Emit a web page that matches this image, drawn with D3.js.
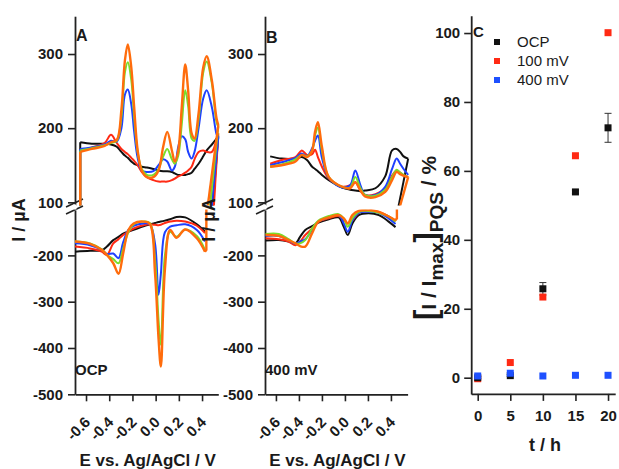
<!DOCTYPE html>
<html>
<head>
<meta charset="utf-8">
<script src="https://cdn.jsdelivr.net/npm/d3@7"></script>
<style>
  body { margin: 0; background: #fff; }
  svg text { font-family: "Liberation Sans", Arial, sans-serif; fill: #1a1a1a; }
</style>
</head>
<body>
<svg id="chart" width="619" height="469"></svg>
<script>
// curve colours, same order in every CV array below
const curveColors = ["#111111", "#ff2a14", "#1e40ff", "#7ade2a", "#ff6c0c"];

// panel A (OCP) - forward sweep, E in V, I in uA
const eAUp = [-0.65, -0.55, -0.44, -0.385, -0.335, -0.295, -0.265, -0.24, -0.21, -0.185, -0.155, -0.12, -0.075, -0.02, 0.025, 0.065, 0.10, 0.14, 0.165, 0.195, 0.225, 0.255, 0.28, 0.31, 0.335, 0.37, 0.41, 0.44, 0.485, 0.525, 0.54];
const aUp = [
  [181, 179, 179, 178, 175, 168, 163, 160, 155, 152, 150, 148, 147, 145, 143, 142, 142, 141, 139, 137, 137, 137, 138, 140, 145, 152, 162, 170, 178, 186, 190],
  [170, 174, 180, 191, 180, 172, 168, 165, 160, 156, 150, 141, 134, 130, 128, 128, 128, 130, 132, 135, 137, 140, 143, 148, 158, 168, 170, 168, 168, 185, 193],
  [172, 174, 178, 183, 182, 200, 245, 252, 232, 195, 160, 143, 141, 142, 150, 158, 155, 143, 148, 175, 189, 185, 168, 159, 168, 200, 240, 251, 228, 192, 188],
  [170, 173, 177, 180, 183, 215, 275, 289, 265, 215, 168, 145, 137, 137, 145, 162, 172, 158, 152, 163, 205, 251, 230, 186, 183, 212, 275, 290, 260, 208, 202],
  [168, 172, 176, 181, 184, 225, 291, 313, 282, 228, 170, 143, 134, 134, 143, 175, 195, 170, 155, 170, 228, 286, 251, 193, 186, 220, 282, 297, 264, 213, 204]
];
const aUpDropE = [0.49, 0.5, 0.48, 0.465, 0.445];

// panel A - reverse sweep
const eALow = [-0.695, -0.565, -0.465, -0.42, -0.365, -0.32, -0.28, -0.235, -0.19, -0.105, -0.05, -0.005, 0.025, 0.045, 0.08, 0.125, 0.18, 0.255, 0.355, 0.425];
const aLow = [
  [-192, -190, -189, -181, -167, -160, -153, -149, -145, -137, -133, -130, -128, -127, -125, -122, -117, -118, -133, -149],
  [-181, -185, -192, -199, -174, -165, -156, -149, -142, -135, -133, -134, -135, -134, -130, -127, -125, -127, -136, -152],
  [-174, -178, -188, -197, -196, -206, -172, -145, -136, -131, -133, -175, -285, -240, -150, -138, -135, -133, -145, -170],
  [-170, -174, -187, -199, -208, -217, -185, -150, -133, -127, -130, -210, -340, -393, -200, -149, -160, -144, -158, -188],
  [-170, -175, -188, -199, -217, -240, -196, -145, -131, -127, -132, -240, -380, -440, -230, -145, -162, -144, -163, -192]
];

// panel B (400 mV) - forward sweep
const eBUp = [-0.65, -0.55, -0.43, -0.375, -0.33, -0.285, -0.26, -0.235, -0.2, -0.14, -0.025, 0.045, 0.09, 0.135, 0.175, 0.265, 0.35, 0.41, 0.45, 0.48, 0.51, 0.55];
const bUp = [
  [162, 159, 159, 161, 157, 148, 145, 142, 137, 130, 120, 117, 116, 115, 116, 119, 135, 170, 172, 168, 162, 159],
  [152, 157, 161, 170, 164, 165, 171, 161, 148, 132, 121, 123, 127, 116, 110, 111, 119, 136, 143, 140, 136, 134],
  [150, 154, 160, 166, 162, 173, 183, 190, 160, 133, 120, 123, 143, 123, 110, 110, 121, 145, 159, 152, 145, 137],
  [148, 151, 158, 164, 162, 170, 190, 201, 170, 134, 121, 120, 134, 119, 110, 109, 117, 134, 144, 140, 137, 134],
  [148, 150, 155, 164, 161, 170, 195, 208, 175, 134, 121, 119, 127, 116, 108, 107, 114, 130, 141, 138, 136, 134]
];

// panel B - reverse sweep
const eBLow = [-0.69, -0.575, -0.49, -0.43, -0.39, -0.345, -0.285, -0.23, -0.14, -0.055, -0.01, 0.025, 0.065, 0.12, 0.205, 0.295, 0.38, 0.44];
const bLow = [
  [-168, -167, -170, -174, -160, -145, -137, -129, -122, -118, -138, -156, -131, -113, -109, -113, -127, -139],
  [-163, -165, -170, -178, -170, -156, -142, -127, -120, -115, -124, -131, -124, -108, -104, -106, -116, -127],
  [-158, -158, -167, -175, -170, -165, -145, -127, -118, -113, -131, -149, -124, -108, -106, -108, -120, -132],
  [-154, -154, -165, -174, -174, -167, -142, -125, -115, -111, -120, -138, -120, -106, -104, -108, -116, -127],
  [-156, -158, -167, -174, -180, -181, -152, -127, -118, -113, -120, -131, -113, -104, -102, -106, -116, -124]
];

const yUpTicks = [100, 200, 300];
const yLowTicks = [-200, -300, -400, -500];
const eTicks = [-0.6, -0.4, -0.2, 0.0, 0.2, 0.4];

// panel C
const hours = [0, 5, 10, 15, 20];
const ocp = [0, 0.6, 25.8, 53.9, 72.5];
const ocpErr = [0.3, 0.3, 1.8, 0.5, 4.2];
const mv100 = [-0.3, 4.4, 23.4, 64.4, 100.1];
const mv400 = [0.5, 1.3, 0.5, 0.7, 0.7];
const legendNames = ["OCP", "100 mV", "400 mV"];
const legendColors = ["#111111", "#ff2a14", "#1e50ff"];

const svg = d3.select("#chart");
const axisColor = "#222";

const yUp = d3.scaleLinear().domain([96, 351]).range([205.3, 16.2]);
const yLow = d3.scaleLinear().domain([-500, -102]).range([394.3, 210]);

function styleAxis(g, size) {
  g.selectAll("path.domain").attr("stroke", axisColor).attr("stroke-width", 1.8);
  g.selectAll(".tick line").attr("stroke", axisColor).attr("stroke-width", 1.6);
  g.selectAll("text").attr("font-size", size).attr("font-weight", "bold").attr("fill", "#1a1a1a");
}

function drawCV(id, x, axisX, upData, eUp, lowData, eLow, upDrops, showStart, letter, note) {
  const g = svg.append("g");

  g.append("clipPath").attr("id", id + "-up")
    .append("rect").attr("x", axisX).attr("y", 10).attr("width", 160).attr("height", 195.5);
  g.append("clipPath").attr("id", id + "-low")
    .append("rect").attr("x", axisX).attr("y", 209.5).attr("width", 160).attr("height", 190);

  // y axis label
  g.append("text")
    .attr("transform", `translate(${axisX - 50},220) rotate(-90)`)
    .attr("text-anchor", "middle")
    .attr("font-size", 18).attr("font-weight", "bold")
    .text("I / µA");

  // axes
  const ga = g.append("g").attr("transform", `translate(${axisX},0)`)
    .call(d3.axisLeft(yUp).tickValues(yUpTicks).tickSize(7).tickSizeOuter(0).tickPadding(5)
      .tickFormat(d => String(d)));
  styleAxis(ga, 15);
  const gb = g.append("g").attr("transform", `translate(${axisX},0)`)
    .call(d3.axisLeft(yLow).tickValues(yLowTicks).tickSize(7).tickSizeOuter(0).tickPadding(5)
      .tickFormat(d => String(d)));
  styleAxis(gb, 15);

  // axis break marks
  [203, 210].forEach(yy => {
    g.append("line")
      .attr("x1", axisX - 9).attr("y1", yy + 4)
      .attr("x2", axisX + 8).attr("y2", yy - 4)
      .attr("stroke", axisColor).attr("stroke-width", 1.5);
  });
  g.append("rect").attr("x", axisX - 1.5).attr("y", 204.5).attr("width", 3).attr("height", 5).attr("fill", "#fff");

  const gx = g.append("g").attr("transform", "translate(0,394.3)")
    .call(d3.axisBottom(x).tickValues(eTicks).tickSize(7).tickSizeOuter(0)
      .tickFormat(d => d.toFixed(1)));
  styleAxis(gx, 15);
  gx.selectAll("text")
    .attr("text-anchor", "end").attr("x", 0).attr("y", 0).attr("dy", "0.35em")
    .attr("transform", "translate(1,25) rotate(-45)");

  g.append("text")
    .attr("x", (x.range()[0] + x.range()[1]) / 2 + 1).attr("y", 466)
    .attr("text-anchor", "middle").attr("font-size", 17).attr("font-weight", "bold")
    .text("E vs. Ag/AgCl / V");

  const smooth = (ys) => d3.line()
    .x(d => x(d[0])).y(d => ys(d[1]))
    .curve(d3.curveCatmullRom.alpha(0.5));
  const straight = (ys) => d3.line().x(d => x(d[0])).y(d => ys(d[1]));

  const up = g.append("g").attr("clip-path", `url(#${id}-up)`);
  const low = g.append("g").attr("clip-path", `url(#${id}-low)`);

  upData.forEach((vals, i) => {
    const pts = eUp.map((e, k) => [e, vals[k]]);
    const w = i === 4 ? 2.4 : 2;
    if (showStart) {
      up.append("path").attr("d", straight(yUp)([[eUp[0], 90], pts[0]]))
        .attr("fill", "none").attr("stroke", curveColors[i]).attr("stroke-width", w);
    }
    if (upDrops[i] !== null) {
      up.append("path").attr("d", straight(yUp)([pts[pts.length - 1], [upDrops[i], 90]]))
        .attr("fill", "none").attr("stroke", curveColors[i]).attr("stroke-width", w);
    }
    up.append("path").attr("d", smooth(yUp)(pts))
      .attr("fill", "none").attr("stroke", curveColors[i]).attr("stroke-width", w)
      .attr("stroke-linejoin", "round");
  });

  lowData.forEach((vals, i) => {
    const pts = eLow.map((e, k) => [e, vals[k]]);
    const w = i === 4 ? 2.4 : 2;
    low.append("path").attr("d", smooth(yLow)(pts))
      .attr("fill", "none").attr("stroke", curveColors[i]).attr("stroke-width", w)
      .attr("stroke-linejoin", "round");
    if (i === 4) {
      const last = pts[pts.length - 1];
      low.append("path").attr("d", straight(yLow)([last, [last[0] + 0.012, last[1] + 4], [last[0] + 0.012, -90]]))
        .attr("fill", "none").attr("stroke", curveColors[i]).attr("stroke-width", w);
    }
  });

  g.append("text").attr("x", axisX + 1).attr("y", letter === "A" ? 41 : 43)
    .attr("font-size", 16).attr("font-weight", "bold").text(letter);
  g.append("text").attr("x", axisX).attr("y", 375)
    .attr("font-size", 15).attr("font-weight", "bold").text(note);
}

const xA = d3.scaleLinear().domain([-0.695, 0.54]).range([75, 218.3]);
const xB = d3.scaleLinear().domain([-0.695, 0.545]).range([265, 407.6]);

drawCV("a", xA, 75, aUp, eAUp, aLow, eALow, aUpDropE, true, "A", "OCP");
drawCV("b", xB, 265, bUp, eBUp, bLow, eBLow, [0.46, null, null, null, 0.47], false, "B", "400 mV");

// ---- panel C ----
const xC = d3.scaleLinear().domain([-1, 21.1]).range([471.2, 615.2]);
const yC = d3.scaleLinear().domain([-4.7, 105]).range([393.9, 15.8]);

const gc = svg.append("g");
const cy = gc.append("g").attr("transform", "translate(471.2,0)")
  .call(d3.axisLeft(yC).tickValues([0, 20, 40, 60, 80, 100]).tickSize(7).tickSizeOuter(0).tickPadding(4));
styleAxis(cy, 15);
const cx = gc.append("g").attr("transform", "translate(0,393.9)")
  .call(d3.axisBottom(xC).tickValues(hours).tickSize(7).tickSizeOuter(0).tickPadding(9));
styleAxis(cx, 15);

gc.append("text").attr("x", 545).attr("y", 451)
  .attr("text-anchor", "middle").attr("font-size", 18).attr("font-weight", "bold")
  .text("t / h");

const ylab = gc.append("text")
  .attr("transform", "translate(436,238) rotate(-90)")
  .attr("text-anchor", "middle").attr("font-weight", "bold");
ylab.append("tspan").attr("font-size", 31).text("[");
ylab.append("tspan").attr("font-size", 21).text("I / I");
ylab.append("tspan").attr("font-size", 19).attr("dy", 7).text("max");
ylab.append("tspan").attr("font-size", 31).attr("dy", -7).text("]");
ylab.append("tspan").attr("font-size", 19).attr("dy", 7).text("PQS");
ylab.append("tspan").attr("font-size", 21).attr("dy", -7).text(" / %");

gc.append("text").attr("x", 473).attr("y", 37).attr("font-size", 15).attr("font-weight", "bold").text("C");

// error bars for OCP
const errG = gc.append("g").attr("stroke", "#333").attr("stroke-width", 1);
hours.forEach((h, i) => {
  const x0 = xC(h);
  errG.append("line").attr("x1", x0).attr("x2", x0)
    .attr("y1", yC(ocp[i] - ocpErr[i])).attr("y2", yC(ocp[i] + ocpErr[i]));
  [ocp[i] - ocpErr[i], ocp[i] + ocpErr[i]].forEach(v => {
    errG.append("line").attr("x1", x0 - 3.5).attr("x2", x0 + 3.5)
      .attr("y1", yC(v)).attr("y2", yC(v));
  });
});

const ms = 7;
function squares(vals, color) {
  gc.append("g").selectAll("rect").data(hours).enter().append("rect")
    .attr("x", (d) => xC(d) - ms / 2)
    .attr("y", (d, i) => yC(vals[i]) - ms / 2)
    .attr("width", ms).attr("height", ms)
    .attr("fill", color);
}
squares(mv100, legendColors[1]);
squares(ocp, legendColors[0]);
squares(mv400, legendColors[2]);

legendNames.forEach((name, i) => {
  const yy = 42 + i * 19;
  gc.append("rect").attr("x", 494).attr("y", yy - 3).attr("width", 6).attr("height", 6).attr("fill", legendColors[i]);
  gc.append("text").attr("x", 517).attr("y", yy + 5).attr("font-size", 15).text(name);
});
</script>
</body>
</html>
